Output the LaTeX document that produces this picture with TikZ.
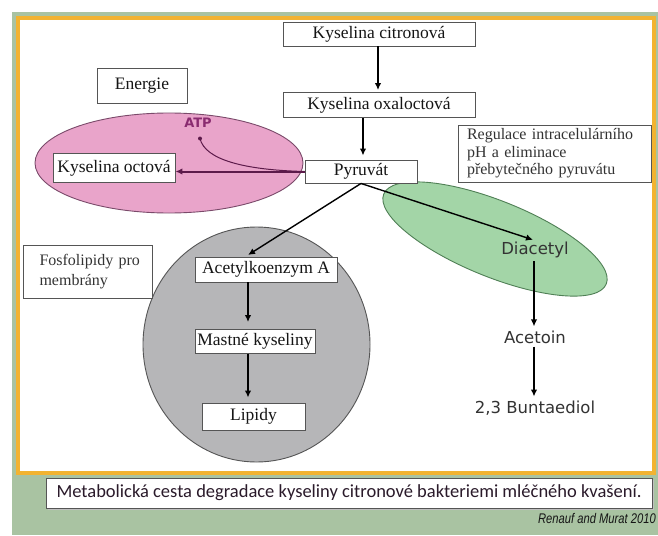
\documentclass[tikz,border=0pt]{standalone}
\usepackage{fontspec}
\setmainfont{Liberation Serif}
\newfontfamily\dvsans{DejaVu Sans}
\newfontfamily\carl{Carlito}
\newfontfamily\lsans{Liberation Sans}
\usetikzlibrary{arrows.meta,calc}
\definecolor{framegreen}{HTML}{A9C3A2}
\definecolor{panelorange}{HTML}{F2B331}
\definecolor{pinkfill}{HTML}{E9A4CA}
\definecolor{pinkline}{HTML}{7A4A6A}
\definecolor{greenfill}{HTML}{A3D5A7}
\definecolor{greenline}{HTML}{4F7F55}
\definecolor{grayfill}{HTML}{B6B6B8}
\definecolor{grayline}{HTML}{555555}
\definecolor{boxline}{HTML}{555555}
\definecolor{txt}{HTML}{151515}
\definecolor{softtxt}{HTML}{333333}
\definecolor{captxt}{HTML}{2A1A2A}
\definecolor{atpcol}{HTML}{8A2C70}
\definecolor{purplearrow}{HTML}{5C1A4A}
\begin{document}
\begin{tikzpicture}[x=1pt,y=-1pt,
  box/.style={draw=boxline, line width=0.9pt, fill=white, inner sep=0pt, text=txt,
    font=\fontsize{17.5}{19}\selectfont},
  note/.style={draw=boxline, line width=0.9pt, fill=white, inner sep=0pt, text=softtxt,
    font=\fontsize{16}{17.5}\selectfont},
  plain/.style={inner sep=1pt, text=softtxt, font=\dvsans\fontsize{16.5}{18}\selectfont},
  arr/.style={-{Latex[length=7pt,width=6.5pt]}, line width=1.6pt, black},
  parr/.style={-{Latex[length=7pt,width=6.5pt]}, line width=2pt, purplearrow},
  blob/.style={line width=0.9pt}]
\useasboundingbox (0,0) rectangle (658,535);
\clip (0,0) rectangle (658,535);
\fill[white] (0,0) rectangle (658,535);
\fill[framegreen] (12,12) rectangle (658,535);
\draw[panelorange, line width=3.5pt, fill=white] (18,18) rectangle (654,473);

% ellipses
\draw[blob, draw=pinkline, fill=pinkfill] (169,163) ellipse [x radius=134, y radius=50];
\draw[blob, draw=greenline, fill=greenfill, rotate around={-22:(495,239)}] (495,239) ellipse [x radius=120, y radius=38];
\draw[blob, draw=grayline, fill=grayfill] (256.5,344.5) ellipse [x radius=113.5, y radius=117.5];

% nodes
\node[box, minimum width=192pt, minimum height=24pt] (cit) at (379,34) {Kyselina citronová};
\node[box, minimum width=192pt, minimum height=25pt] (oxa) at (379,105) {Kyselina oxaloctová};
\node[box, minimum width=112pt, minimum height=23pt] (pyr) at (361,171.5) {Pyruvát};
\node[box, minimum width=90pt, minimum height=35pt] (ene) at (142,85.5) {Energie};
\node[box, minimum width=122pt, minimum height=29pt] (oct) at (114,168) {Kyselina octová};
\node[note, minimum width=193pt, minimum height=57pt, text width=175pt, align=left] (reg) at (554.5,153.5)
  {Regulace intracelulárního\\pH a eliminace\\přebytečného pyruvátu};
\node[note, minimum width=129pt, minimum height=53pt, text width=112pt, align=left,
  font=\fontsize{16}{20}\selectfont] (fos) at (87.5,271.5) {\hspace*{8pt}Fosfolipidy pro\\\hspace*{8pt}membrány};
\node[box, minimum width=142pt, minimum height=25pt] (acet) at (266,269.5) {Acetylkoenzym A};
\node[box, minimum width=120pt, minimum height=24pt] (mast) at (255,341.5) {Mastné kyseliny};
\node[box, minimum width=103pt, minimum height=27pt] (lip) at (253.5,416.5) {Lipidy};
\node[plain] (diac) at (535,250) {Diacetyl};
\node[plain] (acetoin) at (535,337) {Acetoin};
\node[plain] (butan) at (535,408) {2,3 Buntaediol};
\node[inner sep=0pt, text=atpcol, font=\dvsans\bfseries\fontsize{13}{14}\selectfont] (atp) at (198,123) {ATP};
\coordinate (atpdot) at (200,138.5);

% connectors
\draw[arr, shorten >=2pt] (cit.south -| 378,0) -- (oxa.north -| 378,0);
\draw[arr, shorten >=4pt] (oxa.south -| 363,0) -- (pyr.north -| 363,0);
\draw[parr] (pyr.west) -- (pyr.west -| oct.east);
\fill[purplearrow] (atpdot) circle (2pt);
\draw[purplearrow, line width=1pt] (atpdot) .. controls (205,160) and (245,170) .. (pyr.west);
\draw[arr, line width=1.4pt] (pyr.south) -- ($(diac.north)+(-2,-1)$);
\draw[arr, line width=1.4pt] (pyr.south) -- (248,255);
\draw[arr, shorten >=7pt] (acet.south -| 248,0) -- (mast.north -| 248,0);
\draw[arr, shorten >=5pt] (mast.south -| 248,0) -- (lip.north -| 248,0);
\draw[arr, shorten <=2pt, shorten >=3pt] (diac.south -| 534,0) -- (acetoin.north -| 534,0);
\draw[arr, shorten <=2pt, shorten >=3pt] (acetoin.south -| 534,0) -- (butan.north -| 534,0);

% caption
\fill[black!25] (48,480) rectangle (654,510);
\node[draw=boxline, line width=0.9pt, fill=white, inner sep=0pt, minimum width=606pt, minimum height=30pt,
  text=captxt, font=\carl\fontsize{18.5}{20}\selectfont] (cap) at (349,493) {Metabolická cesta degradace kyseliny citronové bakteriemi mléčného kvašení.};
\node[anchor=east, inner sep=0pt, text=txt, font=\lsans\itshape\fontsize{14}{15}\selectfont] (ref) at (656,518)
  {\scalebox{0.8}[1]{Renauf and Murat 2010}};
\end{tikzpicture}
\end{document}
